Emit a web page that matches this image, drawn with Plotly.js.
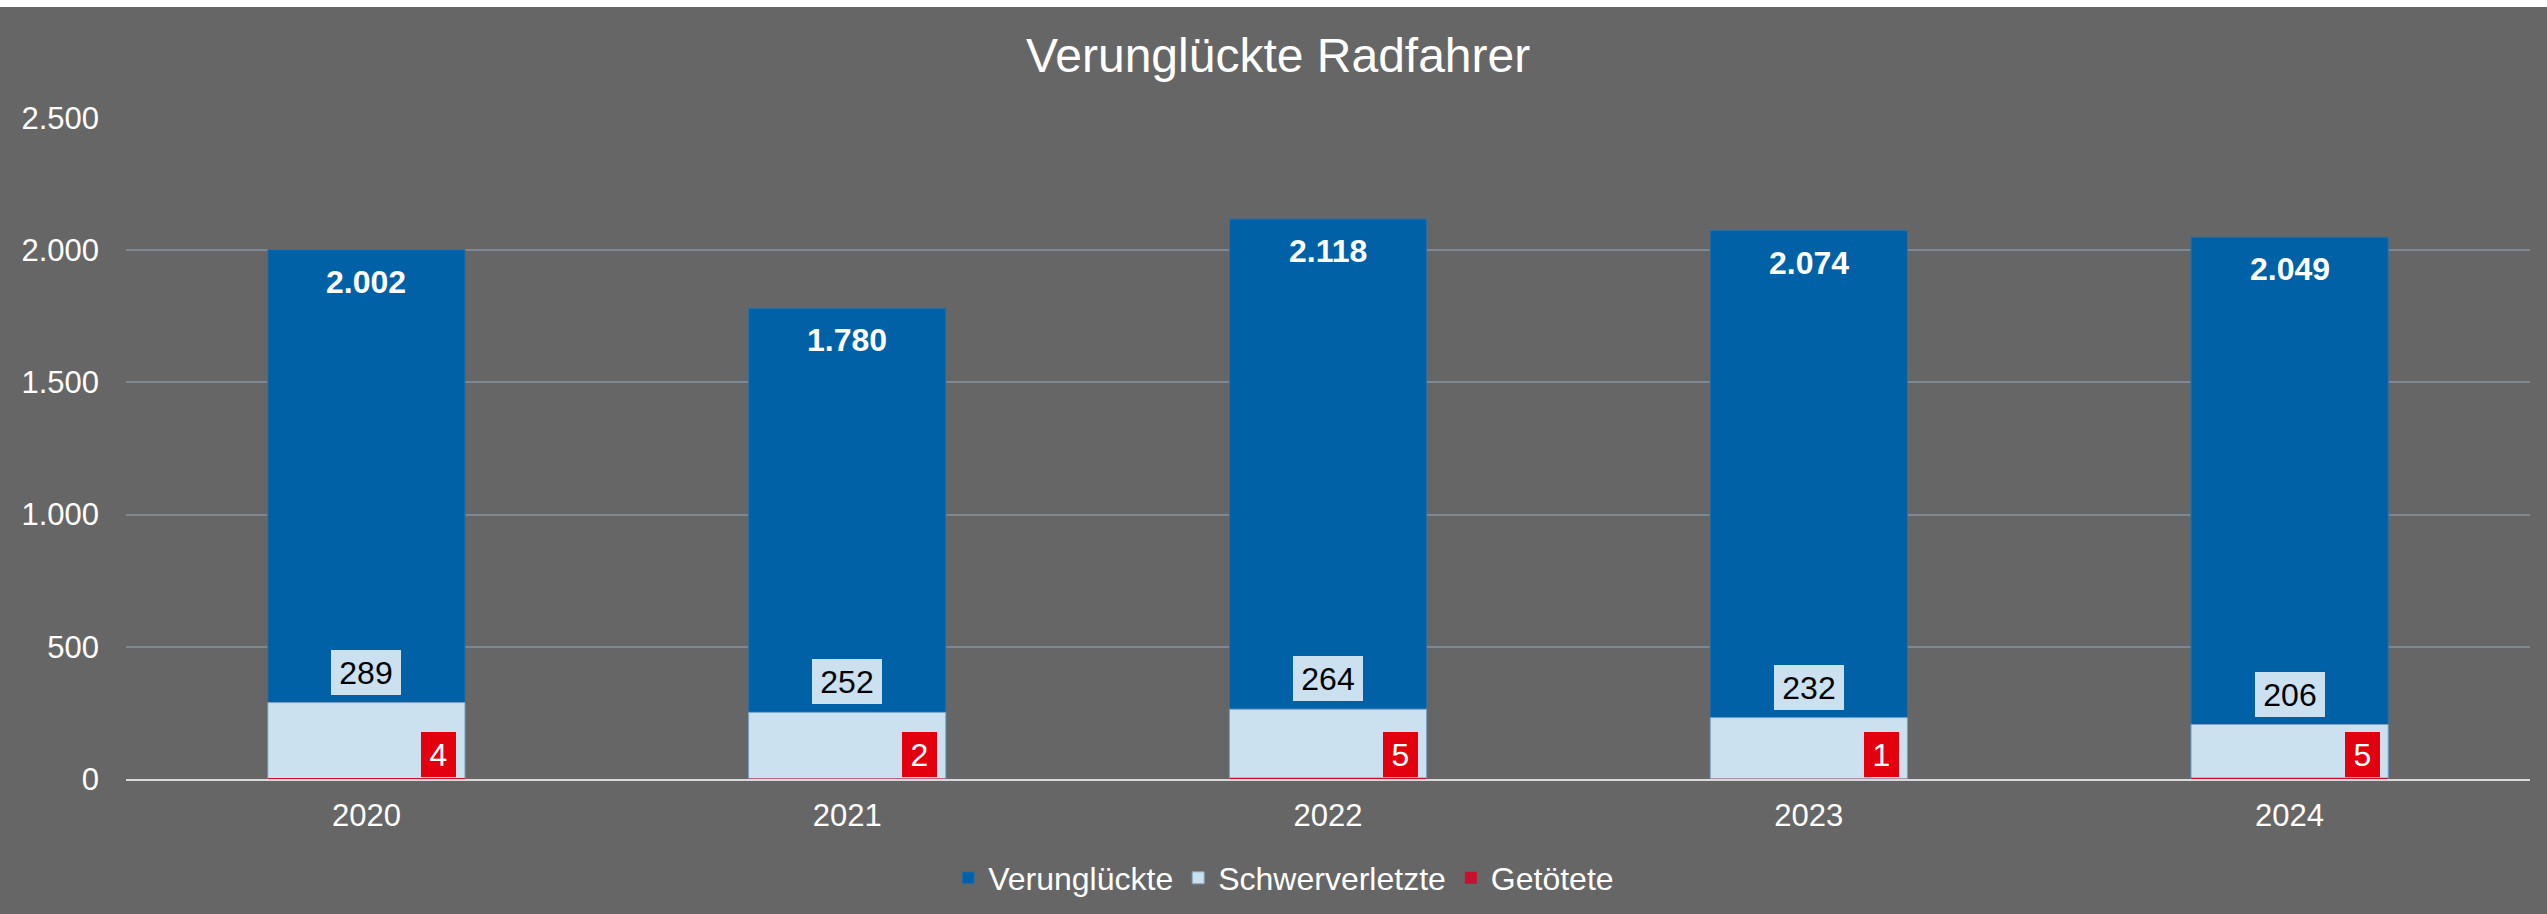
<!DOCTYPE html>
<html>
<head>
<meta charset="utf-8">
<script src="https://cdn.plot.ly/plotly-3.0.1.min.js"></script>
<style>
html, body { margin: 0; padding: 0; background: #ffffff; }
#chart { width: 2547px; height: 907px; margin-top: 7px; }
</style>
</head>
<body>
<div id="chart"></div>
<script>
// ---- data ----
const years = ['2020', '2021', '2022', '2023', '2024'];
const verunglueckte = [2002, 1780, 2118, 2074, 2049];
const schwerverletzte = [289, 252, 264, 232, 206];
const getoetete = [4, 2, 5, 1, 5];
const yTicks = [0, 500, 1000, 1500, 2000, 2500];

// ---- helpers ----
function fmt(n) {
  return String(n).replace(/\B(?=(\d{3})+(?!\d))/g, '.');
}

const FONT = 'Liberation Sans, Arial, sans-serif';
const C_DARK = '#0061A6';
const C_LIGHT = '#CBE1EF';
const C_RED = '#C8102E';
const C_REDBOX = '#E3000F';

const traces = [
  {
    type: 'bar', name: 'Verunglückte', x: years, y: verunglueckte,
    marker: { color: C_DARK, line: { color: '#2A6FA8', width: 1 } },
    hoverinfo: 'skip'
  },
  {
    type: 'bar', name: 'Schwerverletzte', x: years, y: schwerverletzte,
    marker: { color: C_LIGHT, line: { color: '#7FA3C4', width: 1 } },
    hoverinfo: 'skip'
  },
  {
    type: 'bar', name: 'Getötete', x: years, y: getoetete,
    marker: { color: C_RED, line: { width: 0 } },
    hoverinfo: 'skip'
  }
];

const annotations = [];
years.forEach((yr, i) => {
  annotations.push({
    x: i, y: verunglueckte[i], xref: 'x', yref: 'y',
    text: '<b>' + fmt(verunglueckte[i]) + '</b>',
    showarrow: false, xanchor: 'center', yanchor: 'top', yshift: -12,
    font: { family: FONT, size: 32, color: '#FFFFFF' }
  });
  annotations.push({
    x: i, y: schwerverletzte[i], xref: 'x', yref: 'y',
    text: fmt(schwerverletzte[i]),
    showarrow: false, xanchor: 'center', yanchor: 'bottom', yshift: 8,
    bgcolor: C_LIGHT, borderpad: 0, borderwidth: 0, width: 70, height: 45,
    font: { family: FONT, size: 32, color: '#000000' }
  });
  annotations.push({
    x: i, y: 0, xref: 'x', yref: 'y',
    text: fmt(getoetete[i]),
    showarrow: false, xanchor: 'right', yanchor: 'bottom', xshift: 90, yshift: 2,
    bgcolor: C_REDBOX, borderpad: 0, borderwidth: 0, width: 35, height: 45,
    font: { family: FONT, size: 32, color: '#FFFFFF' }
  });
});

const layout = {
  width: 2547, height: 907,
  paper_bgcolor: '#666666', plot_bgcolor: '#666666',
  separators: ',.',
  margin: { l: 126, r: 17, t: 111, b: 135, pad: 0 },
  barmode: 'overlay', bargap: 0.59,
  font: { family: FONT, color: '#FFFFFF', size: 31 },
  title: {
    text: 'Verunglückte Radfahrer',
    font: { family: FONT, size: 48, color: '#FFFFFF' },
    x: 0.5018, xref: 'container', xanchor: 'center',
    y: 1 - 48.5 / 907, yref: 'container', yanchor: 'middle'
  },
  xaxis: {
    type: 'category', categoryorder: 'array', categoryarray: years,
    range: [-0.5, 4.5], autorange: false,
    showgrid: false, zeroline: false,
    showline: true, linecolor: '#D9D9D9', linewidth: 2,
    ticks: '', ticklabelstandoff: 8,
    tickfont: { family: FONT, size: 31, color: '#FFFFFF' },
    fixedrange: true
  },
  yaxis: {
    range: [0, 2500], autorange: false, tickvals: yTicks, ticktext: yTicks.map(fmt),
    showgrid: true, gridcolor: '#7D8893', gridwidth: 2,
    zeroline: false, showline: false, ticks: '',
    ticklabelstandoff: 26,
    tickfont: { family: FONT, size: 31, color: '#FFFFFF' },
    fixedrange: true
  },
  showlegend: true,
  legend: {
    orientation: 'h', xref: 'container', yref: 'container',
    x: 0.504, xanchor: 'center', y: (907 - 871) / 907, yanchor: 'middle',
    font: { family: FONT, size: 32, color: '#FFFFFF' },
    bgcolor: 'rgba(0,0,0,0)', traceorder: 'normal'
  },
  annotations: annotations
};

Plotly.newPlot('chart', traces, layout, { displayModeBar: false, staticPlot: true });
</script>
</body>
</html>
